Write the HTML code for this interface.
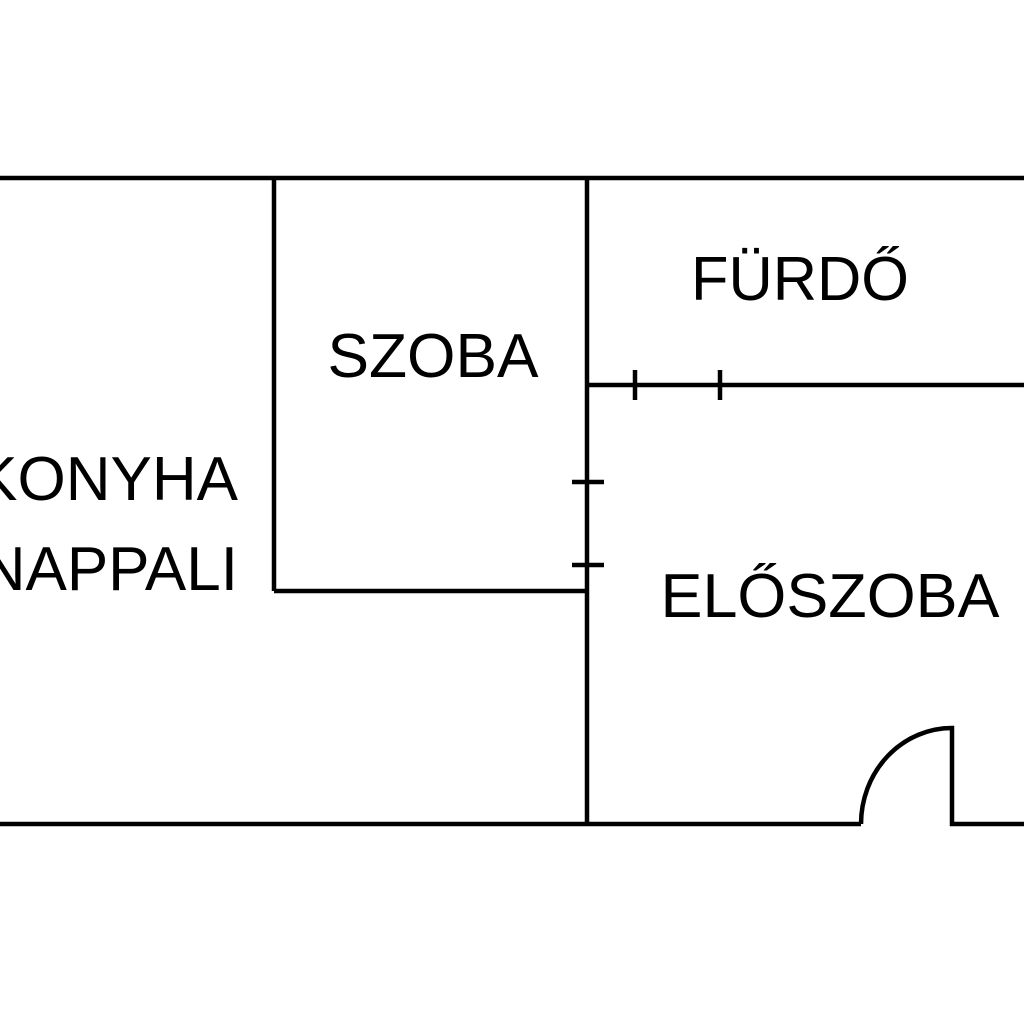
<!DOCTYPE html>
<html><head><style>
html,body{margin:0;padding:0;background:#fff;width:1024px;height:1024px;overflow:hidden}
text{font-family:"Liberation Sans","DejaVu Sans",sans-serif;font-size:62px;fill:#000}
</style></head><body>
<svg width="1024" height="1024" viewBox="0 0 1024 1024" xmlns="http://www.w3.org/2000/svg">
<g stroke="#000" stroke-width="4.5" fill="none">
<line x1="0" y1="178" x2="1024" y2="178"/>
<line x1="274" y1="178" x2="274" y2="591"/>
<line x1="274" y1="591" x2="588" y2="591"/>
<line x1="587" y1="178" x2="587" y2="824"/>
<line x1="587" y1="385" x2="1024" y2="385"/>
<line x1="635" y1="370" x2="635" y2="400"/>
<line x1="720" y1="370" x2="720" y2="400"/>
<line x1="572" y1="482" x2="604" y2="482"/>
<line x1="572" y1="565" x2="604" y2="565"/>
<line x1="0" y1="824" x2="861" y2="824"/>
<path d="M861 824 A91 96 0 0 1 952 728 L952 824 L1024 824"/>
</g>
<text x="800" y="300" text-anchor="middle" textLength="218" lengthAdjust="spacingAndGlyphs">FÜRDŐ</text>
<text x="433" y="377" text-anchor="middle" textLength="211" lengthAdjust="spacingAndGlyphs">SZOBA</text>
<text x="238" y="500" text-anchor="end">KONYHA</text>
<text x="238" y="590" text-anchor="end">NAPPALI</text>
<text x="830" y="617" text-anchor="middle" textLength="339" lengthAdjust="spacingAndGlyphs">ELŐSZOBA</text>
</svg>
</body></html>
